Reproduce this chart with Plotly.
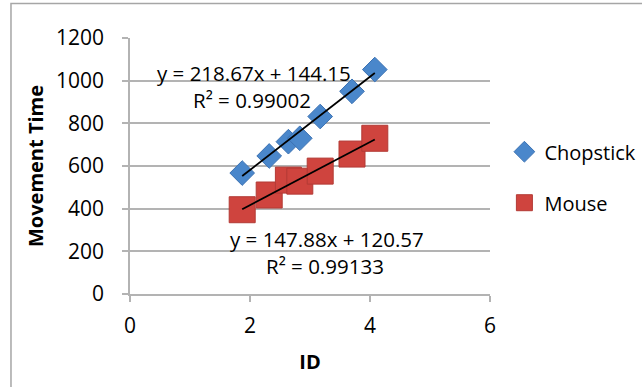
import plotly.graph_objects as go

# Index of difficulty for each target condition
ids = [1.87, 2.32, 2.64, 2.83, 3.17, 3.70, 4.08]

# Mean movement time per condition
chopstick_mt = [567, 647, 714, 730, 832, 950, 1052]
mouse_mt = [395, 464, 534, 529, 576, 656, 730]

# Linear fits (slope, intercept, R²)
chopstick_fit = (218.67, 144.15, 0.99002)
mouse_fit = (147.88, 120.57, 0.99133)

x_ticks = [0, 2, 4, 6]
y_ticks = [0, 200, 400, 600, 800, 1000, 1200]

FONT = "Open Sans"
GRID = "#b3b3b3"
BLUE = "#4a87cb"
RED = "#cf443e"

series = [
    dict(name="Chopstick", y=chopstick_mt, symbol="diamond", size=19,
         color=BLUE, edge="#3c72b3"),
    dict(name="Mouse", y=mouse_mt, symbol="square", size=26,
         color=RED, edge="#b33a35"),
]


def fit_line(fit, xs):
    slope, intercept, _ = fit
    x0, x1 = min(xs), max(xs)
    return [x0, x1], [slope * x0 + intercept, slope * x1 + intercept]


fig = go.Figure()

for i, s in enumerate(series):
    fig.add_trace(go.Scatter(
        x=ids, y=s["y"], mode="markers", name=s["name"],
        legendgroup=f"g{i}",
        marker=dict(symbol=s["symbol"], size=s["size"], color=s["color"],
                    line=dict(color=s["edge"], width=1)),
    ))

for fit in (chopstick_fit, mouse_fit):
    lx, ly = fit_line(fit, ids)
    fig.add_trace(go.Scatter(x=lx, y=ly, mode="lines", showlegend=False,
                             line=dict(color="black", width=1.8),
                             hoverinfo="skip"))


def eq_text(fit):
    return f"y = {fit[0]:.2f}x + {fit[1]:.2f}"


annots = [
    dict(x=2.067, y=1038, text=eq_text(chopstick_fit)),
    dict(x=2.04, y=911, text=f"R² = {chopstick_fit[2]:.5f}"),
    dict(x=3.275, y=257, text=eq_text(mouse_fit)),
    dict(x=3.258, y=129, text=f"R² = {mouse_fit[2]:.5f}"),
]
for a in annots:
    fig.add_annotation(xref="x", yref="y", showarrow=False,
                       font=dict(family=FONT, size=20.5, color="black"),
                       xanchor="center", yanchor="middle", **a)

# Outer chart frame
fig.add_shape(type="rect", xref="paper", yref="paper",
              x0=-0.3306, y0=-0.6, x1=1.6, y1=1.1344,
              line=dict(color="#a6a6a6", width=1.5), layer="below")

fig.update_layout(
    width=642, height=387,
    margin=dict(l=130, r=152, t=38, b=93, autoexpand=False),
    paper_bgcolor="white", plot_bgcolor="white",
    font=dict(family=FONT, size=20, color="black"),
    showlegend=True,
    legend=dict(x=1.04, y=0.632, xanchor="left", yanchor="top",
                font=dict(family=FONT, size=20),
                tracegroupgap=22, itemsizing="trace",
                bgcolor="rgba(0,0,0,0)", borderwidth=0),
    xaxis=dict(range=[0, 6], tickvals=x_ticks, showgrid=False,
               zeroline=False, showline=True, linecolor=GRID, linewidth=1.5,
               ticks="outside", ticklen=6, tickcolor=GRID, tickwidth=1.5,
               ticklabelstandoff=6,
               tickfont=dict(family=FONT, size=21),
               title=dict(text="<b>ID</b>", font=dict(family=FONT, size=20),
                          standoff=17)),
    yaxis=dict(range=[0, 1200], tickvals=y_ticks, showgrid=True,
               gridcolor=GRID, gridwidth=1.5, zeroline=False,
               showline=True, linecolor=GRID, linewidth=1.5,
               ticks="outside", ticklen=6, tickcolor=GRID, tickwidth=1.5,
               ticklabelstandoff=14,
               tickfont=dict(family=FONT, size=21),
               title=dict(text="<b>Movement Time</b>",
                          font=dict(family=FONT, size=20), standoff=7)),
)

fig.write_html("out.html")
